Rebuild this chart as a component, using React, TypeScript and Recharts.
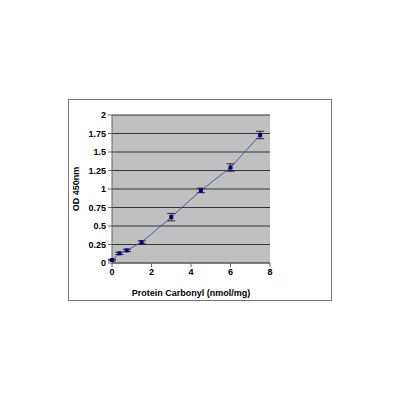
import {
  CartesianGrid,
  ErrorBar,
  Line,
  LineChart,
  XAxis,
  YAxis,
} from "recharts";

const carbonyl = [0, 0.375, 0.75, 1.5, 3, 4.5, 6, 7.5];
const od450 = [0.04, 0.13, 0.17, 0.28, 0.62, 0.98, 1.29, 1.73];
const odError = [0.01, 0.015, 0.015, 0.02, 0.05, 0.03, 0.05, 0.05];
const xTicks = [0, 2, 4, 6, 8];
const yTicks = [0, 0.25, 0.5, 0.75, 1, 1.25, 1.5, 1.75, 2];

const data = carbonyl.map((x, i) => ({ x, od: od450[i], err: odError[i] }));

const font = "'Liberation Sans', Arial, sans-serif";
const textStyle = { fill: "#000", fontSize: 9, fontWeight: "bold", fontFamily: font };

function SquareDot(props: any) {
  const { cx, cy } = props;
  if (cx == null || cy == null) return null;
  return <rect x={cx - 2} y={cy - 2} width={4} height={4} fill="#000080" />;
}

export default function App() {
  return (
    <div style={{ position: "absolute", left: 0, top: 0, width: 400, height: 400, background: "#fff" }}>
      <div
        style={{
          position: "absolute",
          left: 68,
          top: 99,
          width: 262,
          height: 200,
          border: "1px solid #777",
        }}
      />
      <div style={{ position: "absolute", left: 0, top: 0 }}>
        <LineChart
          width={400}
          height={400}
          data={data}
          margin={{ top: 115, right: 130, left: 72, bottom: 102 }}
        >
          <CartesianGrid
            vertical={false}
            horizontal={{ shapeRendering: "crispEdges" } as any}
            fill="#c0c0c0"
            stroke="#333"
            strokeWidth={1}
          />
          <XAxis
            dataKey="x"
            type="number"
            domain={[0, 8]}
            ticks={xTicks}
            interval={0}
            tickSize={4}
            height={35}
            axisLine={{ stroke: "#666" }}
            tickLine={{ stroke: "#666" }}
            tick={textStyle}
            label={{
              value: "Protein Carbonyl (nmol/mg)",
              position: "insideBottom",
              offset: 2,
              style: textStyle,
            }}
          />
          <YAxis
            type="number"
            domain={[0, 2]}
            ticks={yTicks}
            interval={0}
            tickSize={4}
            width={40}
            axisLine={{ stroke: "#666" }}
            tickLine={{ stroke: "#666" }}
            tick={textStyle}
            label={{
              value: "OD 450nm",
              angle: -90,
              position: "insideLeft",
              offset: 4,
              style: { ...textStyle, textAnchor: "middle" },
            }}
          />
          <Line
            type="linear"
            dataKey="od"
            stroke="#5050c0"
            strokeWidth={1}
            dot={<SquareDot />}
            activeDot={false}
            isAnimationActive={false}
          >
            <ErrorBar dataKey="err" width={4} stroke="#222" strokeWidth={1} direction="y" />
          </Line>
        </LineChart>
      </div>
    </div>
  );
}
